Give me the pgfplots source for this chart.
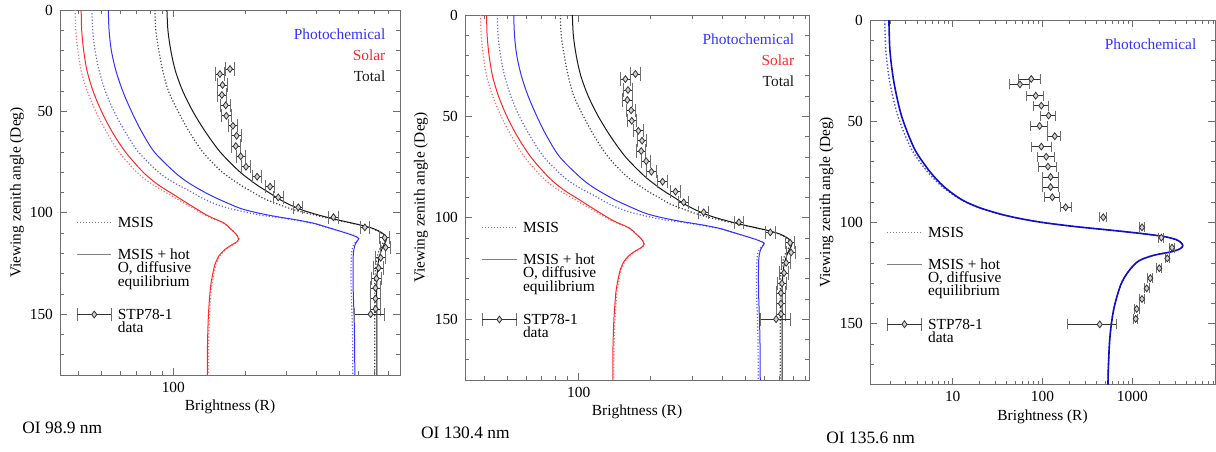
\documentclass[border=0pt]{standalone}
\usepackage{fontspec}
\setmainfont{Liberation Serif}
\usepackage{pgfplots}
\usepackage{pgfplotstable}
\pgfplotsset{compat=1.18}

\definecolor{cred}{RGB}{255,40,40}
\definecolor{credd}{RGB}{255,110,110}
\definecolor{cblue}{RGB}{50,50,255}
\definecolor{cblued}{RGB}{100,100,255}
\definecolor{cblk}{RGB}{25,25,25}
\definecolor{cblkd}{RGB}{70,70,70}
\definecolor{cdblue}{RGB}{15,15,200}
\definecolor{cdblued}{RGB}{80,80,230}
\definecolor{cframe}{RGB}{110,110,110}

\newcommand\tfont{\fontsize{7.7}{9}\selectfont}
\newcommand\titfont{\fontsize{8.7}{10}\selectfont}
\newcommand\threel[3]{\vtop{\baselineskip=6.65pt\lineskiplimit=-10pt\hbox{#1}\hbox{#2}\hbox{#3}\vskip-1.4pt}}
\newcommand\twol[2]{\vtop{\baselineskip=6.65pt\lineskiplimit=-10pt\hbox{#1}\hbox{#2}}}

\pgfplotstableread{
a v
0 41.0
10 41.2
20 42.0
30 43.4
40 46.0
50 49.9
60 55.3
70 62.9
80 74.7
86 85.9
91.2 100.9
96 117
101.5 140
105 163
107.7 173
109.5 180
111.5 186
113 188
114.5 184
116 175
118 165
121 156
125 150
130 146.5
136 143.5
142 142
150 140.5
160 139.5
170 139
180 139
}\RS

\pgfplotstableread{
a v
0 38.7
10 38.9
20 39.7
30 41.0
40 43.5
50 47.2
60 52.3
70 59.1
80 70.2
86 81.6
91.2 96.9
96 114
101.5 138
105 162
107.7 173
109.5 180.5
111.5 186.5
113 189
114.5 185
116 176.5
118 166.5
121 157.5
125 151.5
130 148
136 145
142 143.5
150 142
160 141
170 140.5
180 140.5
}\RD

\pgfplotstableread{
a v
0 53.3
10 53.7
20 54.9
30 57.4
40 61.3
50 66.7
60 73.6
70 83.2
80 101.3
85 115.1
90.4 138
94 160
97.8 191
100 225
101.9 272
103.5 330
105.2 390
106.8 434
109 500
110.9 561
112.2 596
113 600
114 592
115.5 582
118 574
121.6 570
130 569
138 570
146 573
154.5 576
165 578
180 579
}\BS

\pgfplotstableread{
a v
0 45.5
10 45.8
20 46.9
30 48.8
40 51.8
50 56.3
60 62.7
70 71.3
80 86.7
85 100.1
89 116
93.7 137
97 162
99.1 191
101 228
102.2 272
104 340
105.5 395
106.8 430
109 500
110.9 563
112.2 600
113 604
114 590
115.5 574
118 564
121.6 560
130 558
138 559
146 562
154.5 565
165 567
180 568
}\BD

\pgfplotstableread{
a v
0 94
10 94.9
20 97.6
30 102.0
40 109.6
50 120.8
60 136.3
70 157.3
79 187.0
83.8 210
87.1 230
90 252
92.9 275
95.5 302
98.6 347
101 405
103.2 478
105 560
106.5 635
108 700
109.8 751
111.2 775
112.6 788
114 782
116 765
118.3 750
121 737
124.9 725
130 719
135 716
145 716
160 716
180 716
}\KS

\pgfplotstableread{
a v
0 83.7
10 84.4
20 86.9
30 90.3
40 95.4
50 104.7
60 116.6
70 132.9
79 157.1
83.8 178.1
87.1 196.4
90 217
92.9 239.3
95.5 271.8
98.6 322.7
101 388.8
103.2 468.4
105 554
106.5 629
108 693
109.8 744
111.2 767
112.6 780
114 772
116 750
118.3 735
121 722
124.9 711
130 705
135 702
145 702
160 702
180 702
}\KD

\pgfplotstableread{
a v em ep
29.1 173 7.8 8.1
31.6 157 7.1 7.4
37.0 161 7.2 7.6
41.9 160 7.2 7.5
47.0 166 7.5 7.8
52.2 167 7.5 7.8
57.1 178 8.0 8.4
62.0 184.5 8.3 8.7
67.1 183 8.2 8.6
72.1 192 8.6 9.0
77.3 202 9.1 9.5
82.2 225 10.1 10.6
87.1 255 11.5 12.0
92.4 276 12.4 13.0
97.3 335 15.1 15.7
102.2 471 21.2 22.1
107.2 638 28.7 30.0
112.3 773 34.8 36.3
117.1 780 35.1 36.7
122.2 744 33.5 35.0
127.2 729 32.8 34.3
132.4 714 32.1 33.6
137.1 707 31.8 33.2
142.3 707 31.8 33.2
147.4 708 31.9 33.3
150.0 675 95 100
}\DA

\pgfplotstableread{
a v
0 1.95
15 2.0
30 2.2
45 2.6
55 3.1
65 3.9
75 5.6
82 7.85
87 10.97
90 14.3
93 20.8
96 35
98 55.5
100 101
102 231
104 637
105.5 1300
107 2300
108.5 3100
110 3500
111.5 3650
113 3400
114.5 2700
116 1800
118 1300
120 1100
123 950
127 820
131 740
137 670
143 620
150 585
158 560
166 548
173 540
180 536
}\PS

\pgfplotstableread{
a v
0 1.75
15 1.8
30 1.98
45 2.36
55 2.83
65 3.6
75 5.25
82 7.5
87 10.7
90 14.1
93 20.8
96 35
98 55.5
100 101
102 231
104 637
105.5 1300
107 2300
108.5 3100
110 3500
111.5 3650
113 3400
114.5 2700
116 1800
118 1300
120 1100
123 950
127 820
131 740
137 670
143 620
150 585
158 560
166 548
173 540
180 536
}\PD

\pgfplotstableread{
a v em ep
29.1 75 20.8 20.3
31.8 56.1 13 16
37.4 84 18 19
42.3 97 17 20
47.2 117 22 22
52.3 93 19.5 22
57.4 137 22 22
62.5 97 22 28
67.5 110 21 27
72.4 115 24 27
77.5 123 24 26
82.5 123 24 29
87.5 128.6 24.6 27.4
92.5 181 22 28
97.4 475 41 45
102.4 1282 92 93
107.5 2105 135 145
112.4 2770 150 150
117.7 2455 140 140
122.6 2000 120 120
127.5 1587 100 100
132.5 1446 90 90
137.8 1282 80 80
142.7 1120 70 70
147.6 1091 65 65
150.3 434 246 229
}\DC

\pgfplotsset{
  every axis/.append style={
    scale only axis, y dir=reverse, ymin=0, ymax=180,
    ytick={0,50,100,150},
    minor ytick={10,20,30,40,60,70,80,90,110,120,130,140,160,170},
    tick align=inside, tick pos=both,
    major tick length=3.5pt, minor tick length=2pt,
    axis line style={cframe, line width=0.5pt},
    every tick/.style={cframe, line width=0.4pt},
    tick label style={font=\tfont},
    label style={font=\tfont},
    /pgf/number format/assume math mode=true,
    xlabel={Brightness (R)}, ylabel={Viewing zenith angle (Deg)},
    legend style={at={(axis description cs:0.049,0.431)}, anchor=north west,
      draw=none, fill=none, inner sep=0pt, outer sep=0pt,
      column sep=3pt, row sep=10.4pt, font=\tfont,
      nodes={inner sep=0pt, text depth={}},
      cells={anchor=base west, inner sep=0pt}},
  },
}

\newcommand\mylegend{%
  \addlegendimage{legend image code/.code={\draw[densely dotted, gray, line width=0.5pt] (0cm,2.5pt) -- (0.6cm,2.5pt);}}
  \addlegendentry{MSIS}
  \addlegendimage{legend image code/.code={\draw[gray, line width=0.5pt] (0cm,2.5pt) -- (0.6cm,2.5pt);}}
  \addlegendentry{\threel{MSIS + hot}{O, diffusive}{equilibrium}}
  \addlegendimage{legend image code/.code={%
     \draw[cframe, line width=0.5pt] (0cm,-0.8pt) -- (0cm,5.8pt);
     \draw[cframe, line width=0.5pt] (0.6cm,-0.8pt) -- (0.6cm,5.8pt);
     \draw[black!80, line width=0.4pt] (0cm,2.5pt) -- (0.6cm,2.5pt);
     \draw[black!80, line width=0.4pt, fill=gray!35] plot[mark=diamond*, mark size=1.7pt] coordinates {(0.3cm,2.5pt)};}}
  \addlegendentry{\twol{STP78-1}{data}}
}

\newcommand\threecurves{%
  \addplot[credd, densely dotted, line width=0.6pt, smooth, tension=0.5, forget plot] table[x=v,y=a] {\RD};
  \addplot[cred, line width=0.5pt, smooth, tension=0.5, forget plot] table[x=v,y=a] {\RS};
  \addplot[cblued, densely dotted, line width=0.6pt, smooth, tension=0.5, forget plot] table[x=v,y=a] {\BD};
  \addplot[cblue, line width=0.5pt, smooth, tension=0.5, forget plot] table[x=v,y=a] {\BS};
  \addplot[cblkd, densely dotted, line width=0.6pt, smooth, tension=0.5, forget plot] table[x=v,y=a] {\KD};
  \addplot[cblk, line width=0.5pt, smooth, tension=0.5, forget plot] table[x=v,y=a] {\KS};
  \addplot[forget plot, only marks, mark=diamond*, mark size=1.7pt,
    mark options={fill=gray!35, draw=black!80, line width=0.4pt},
    error bars/x dir=both, error bars/x explicit, error bars/error mark=|,
    error bars/error bar style={black!80, line width=0.4pt},
    error bars/error mark options={cframe, mark size=3.3pt, line width=0.5pt}]
    table[x=v, y=a, x error minus=em, x error plus=ep] {\DA};
  \node[anchor=base east, text=cblue, font=\tfont, inner sep=0pt] at (axis description cs:0.958,0.919) {Photochemical};
  \node[anchor=base east, text=cred, font=\tfont, inner sep=0pt] at (axis description cs:0.958,0.863) {Solar};
  \node[anchor=base east, text=cblk, font=\tfont, inner sep=0pt] at (axis description cs:0.958,0.805) {Total};
}

\begin{document}
\begin{tikzpicture}
\useasboundingbox (0,0) rectangle (608pt,-225.5pt);

\begin{axis}[xmode=log, at={(30pt,-5pt)}, anchor=north west, width=170pt, height=182.5pt,
  xmin=33.4, xmax=896.6, xtick={100}, xticklabels={100},
  minor xtick={40,50,60,70,80,90,200,300,400,500,600,700,800},
  x label style={at={(axis description cs:0.5,-0.087)}, anchor=center},
  y label style={at={(axis description cs:-0.127,0.5)}, rotate=0, anchor=center}]
  \threecurves
  \mylegend
\end{axis}

\begin{axis}[xmode=log, at={(232.5pt,-7.5pt)}, anchor=north west, width=172pt, height=182.5pt,
  xmin=33.27, xmax=928, xtick={100}, xticklabels={100},
  minor xtick={40,50,60,70,80,90,200,300,400,500,600,700,800,900},
  x label style={at={(axis description cs:0.5,-0.087)}, anchor=center},
  y label style={at={(axis description cs:-0.128,0.5)}, rotate=0, anchor=center}]
  \threecurves
  \mylegend
\end{axis}

\begin{axis}[xmode=log, at={(435pt,-10pt)}, anchor=north west, width=172.5pt, height=182.25pt,
  xmin=1.2, xmax=8337, xtick={10,100,1000}, xticklabels={10,100,1000},
  minor xtick={2,3,4,5,6,7,8,9,20,30,40,50,60,70,80,90,200,300,400,500,600,700,800,900,2000,3000,4000,5000,6000,7000,8000},
  x label style={at={(axis description cs:0.5,-0.089)}, anchor=center},
  y label style={at={(axis description cs:-0.126,0.5)}, rotate=0, anchor=center}]
  \addplot[cdblued, densely dotted, line width=0.7pt, smooth, tension=0.5, forget plot] table[x=v,y=a] {\PD};
  \addplot[cdblue, line width=0.8pt, smooth, tension=0.5, forget plot] table[x=v,y=a] {\PS};
  \addplot[forget plot, only marks, mark=diamond*, mark size=1.7pt,
    mark options={fill=gray!35, draw=black!80, line width=0.4pt},
    error bars/x dir=both, error bars/x explicit, error bars/error mark=|,
    error bars/error bar style={black!80, line width=0.4pt},
    error bars/error mark options={cframe, mark size=2.5pt, line width=0.5pt}]
    table[x=v, y=a, x error minus=em, x error plus=ep] {\DC};
  \node[anchor=base east, text=cblue, font=\tfont, inner sep=0pt] at (axis description cs:0.947,0.918) {Photochemical};
  \mylegend
\end{axis}

\node[anchor=base west, font=\titfont, inner sep=0pt] at (11pt,-216.9pt) {OI 98.9 nm};
\node[anchor=base west, font=\titfont, inner sep=0pt] at (210.35pt,-219.4pt) {OI 130.4 nm};
\node[anchor=base west, font=\titfont, inner sep=0pt] at (413pt,-221.9pt) {OI 135.6 nm};
\end{tikzpicture}
\end{document}
